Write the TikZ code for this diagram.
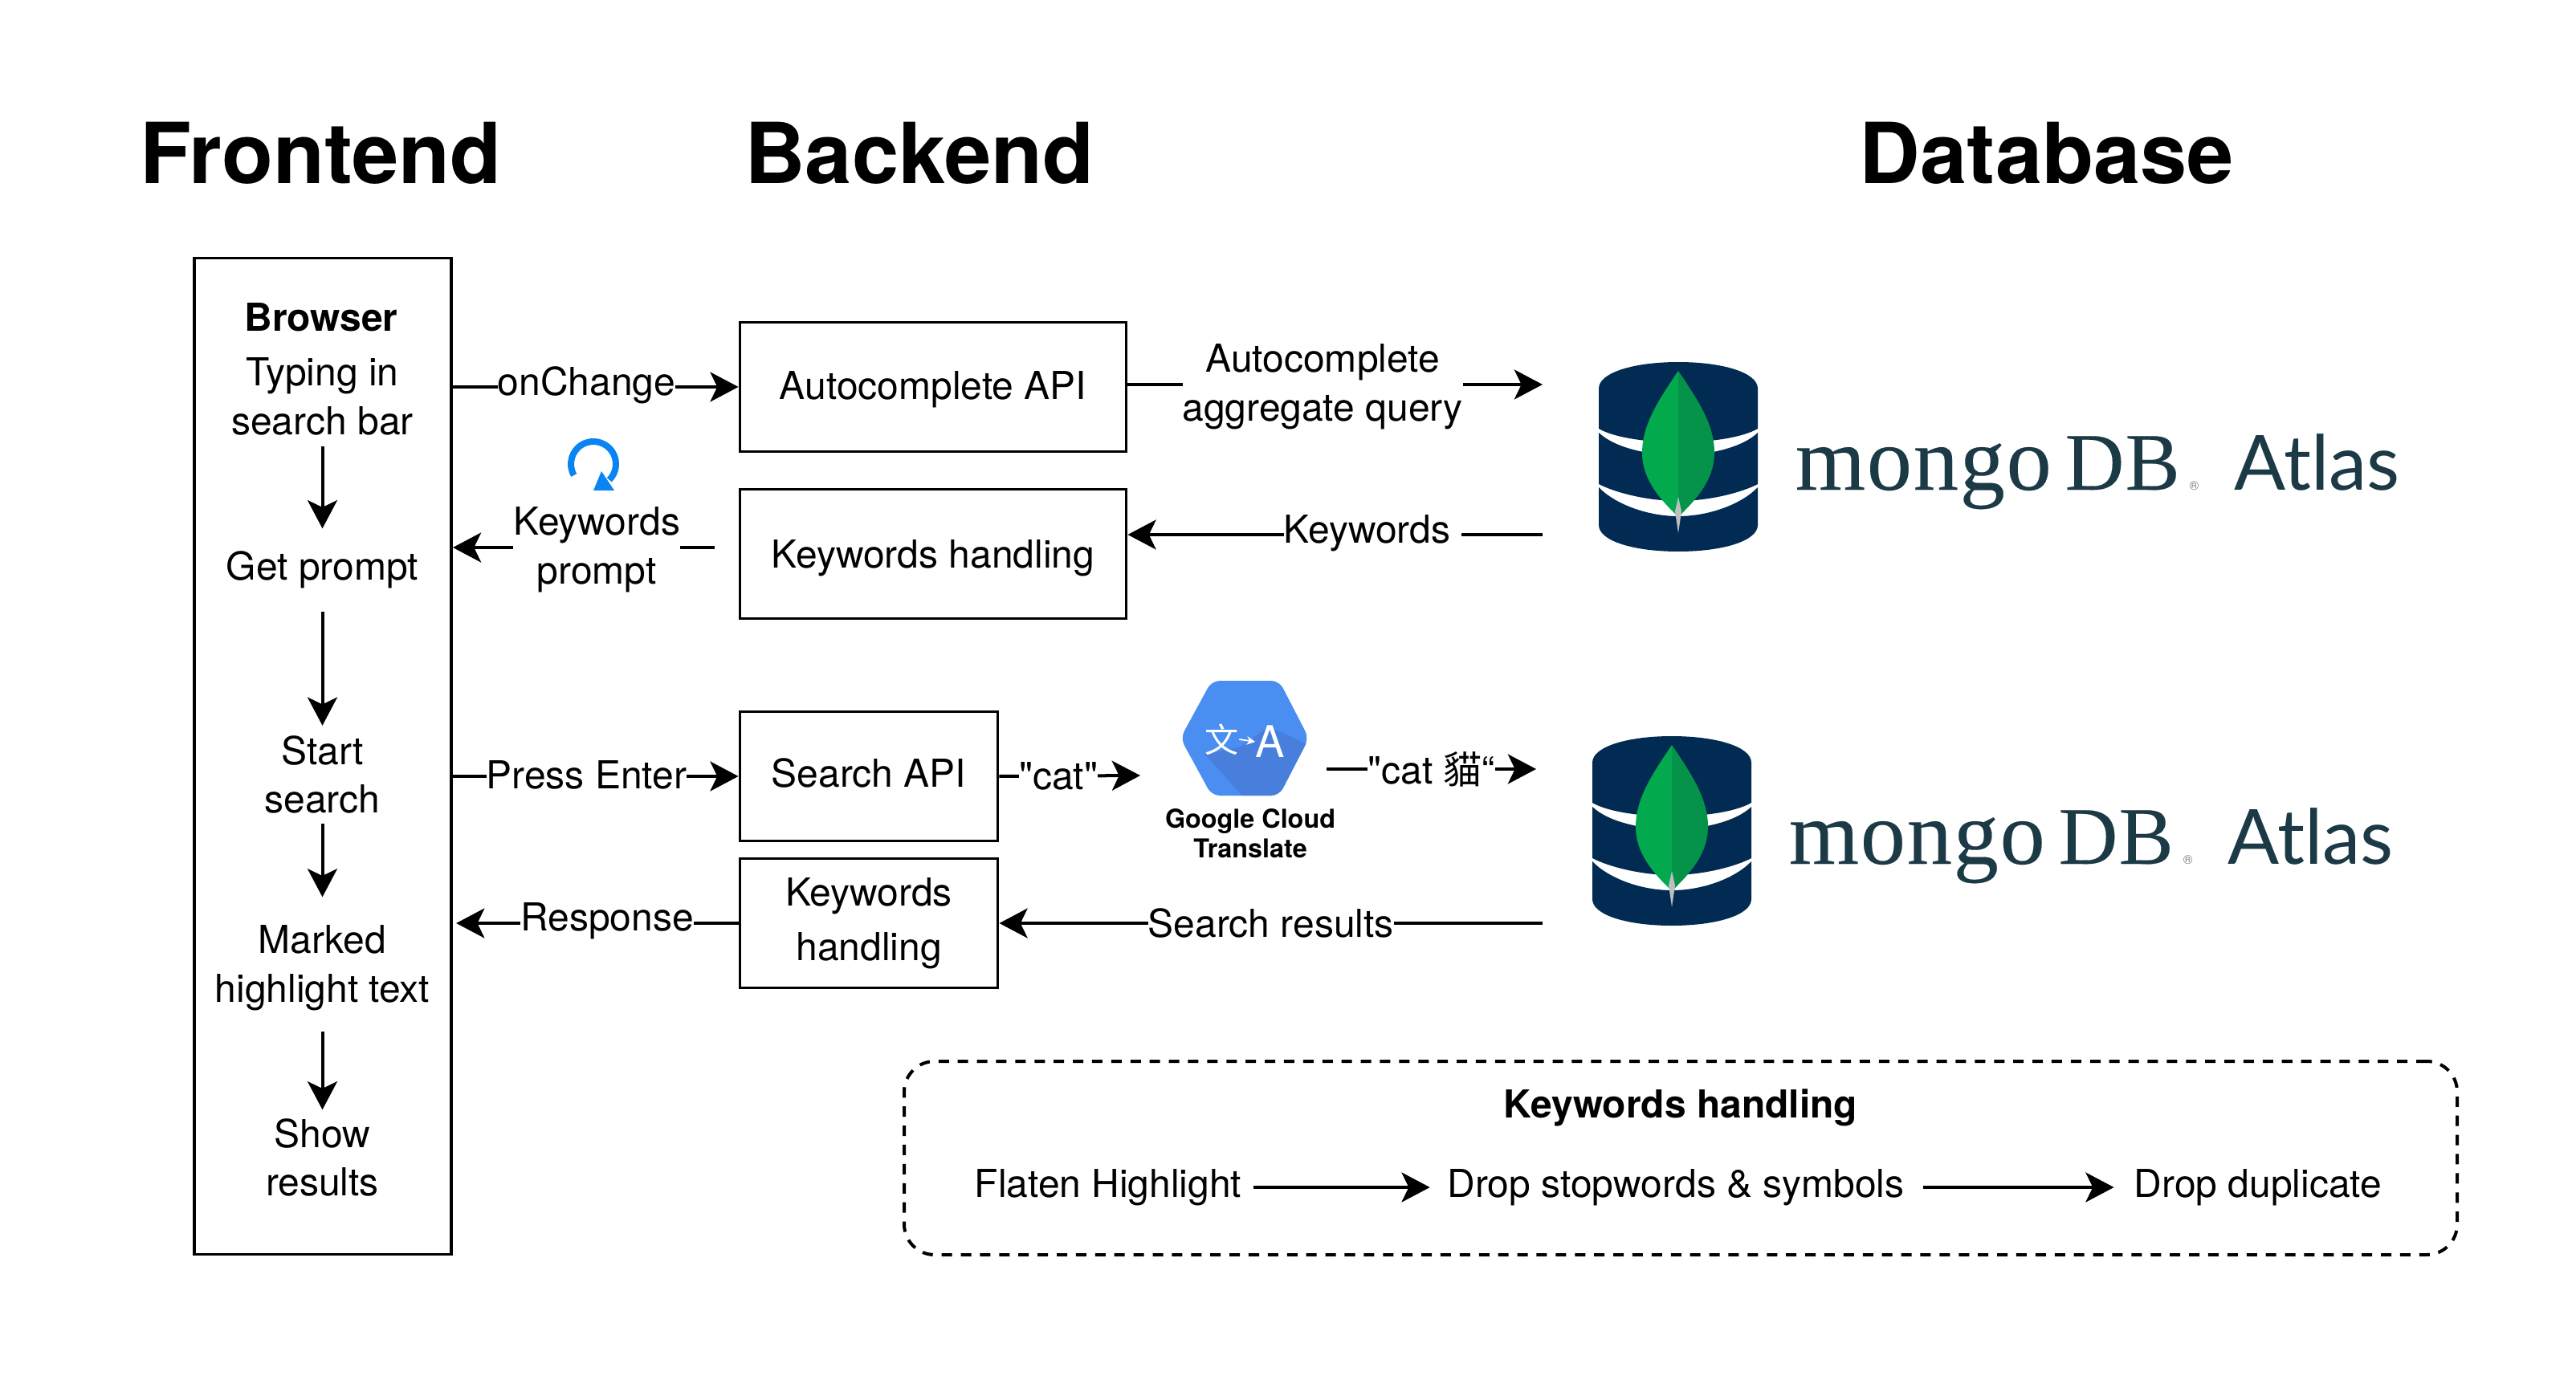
\documentclass[tikz,border=0pt]{standalone}
\usepackage{fontspec}
\setmainfont{TeX Gyre Heros}
\newfontfamily\rawquote{TeX Gyre Heros}
\newfontfamily\logoserif[LetterSpace=1.5,FakeBold=0.15]{Liberation Serif}
\newfontfamily\atlasfont{Lato}
\newfontfamily\cjkfont{Noto Sans CJK TC}
\usetikzlibrary{arrows.meta}
\definecolor{mongonavy}{HTML}{012B52}
\definecolor{leaflight}{HTML}{02A94D}
\definecolor{leafdark}{HTML}{05934A}
\definecolor{logotext}{HTML}{1C3A46}
\definecolor{gcpblue}{HTML}{4A8EF2}
\definecolor{gcpshade}{HTML}{487FDC}
\definecolor{reloadblue}{HTML}{0A84F2}
\tikzset{
  every node/.style={font=\fontsize{13.65}{17.3}\selectfont},
  arr/.style={line width=1.14pt, -{Stealth[length=10pt,width=10.5pt,inset=2.5pt]}},
  apibox/.style={draw, line width=1.1pt, minimum height=1.61cm, inner sep=0pt},
  lbl/.style={fill=white, inner sep=0pt, align=center},
  flowtext/.style={inner sep=0pt, align=center},
  headline/.style={anchor=base, font=\bfseries\fontsize{29.8}{35}\selectfont},
  rowtext/.style={inner sep=0pt},
  mongoatlas/.pic={
    % cylinder
    \fill[mongonavy] (-.99,.85) .. controls (-.99,1.05) and (-.55,1.18) .. (0,1.18) .. controls (.55,1.18) and (.99,1.05) .. (.99,.85)
      -- (.99,.35) .. controls (.8,.24) and (.4,.18) .. (0,.18) .. controls (-.4,.18) and (-.8,.24) .. (-.99,.35) -- cycle;
    \fill[mongonavy] (-.99,.3) .. controls (-.8,.12) and (-.4,.02) .. (0,.02) .. controls (.4,.02) and (.8,.12) .. (.99,.3)
      -- (.99,-.34) .. controls (.8,-.44) and (.4,-.55) .. (0,-.55) .. controls (-.4,-.55) and (-.8,-.44) .. (-.99,-.34) -- cycle;
    \fill[mongonavy] (-.99,-.38) .. controls (-.8,-.58) and (-.4,-.74) .. (0,-.74) .. controls (.4,-.74) and (.8,-.58) .. (.99,-.38)
      -- (.99,-.85) .. controls (.99,-1.05) and (.55,-1.18) .. (0,-1.18) .. controls (-.55,-1.18) and (-.99,-1.05) .. (-.99,-.85) -- cycle;
    % leaf
    \fill[leaflight] (0,1.07) .. controls (-.25,.7) and (-.45,.4) .. (-.45,.05) .. controls (-.45,-.3) and (-.2,-.55) .. (-.03,-.72) -- (0,-.72) -- cycle;
    \fill[leafdark] (0,1.07) .. controls (.25,.7) and (.45,.4) .. (.45,.05) .. controls (.45,-.3) and (.2,-.55) .. (.03,-.72) -- (0,-.72) -- cycle;
    \fill[gray!50] (0,-.95) -- (-.04,-.68) -- (0,-.5) -- (.04,-.68) -- cycle;
    % words
    \node[anchor=base west, inner sep=0pt, text=logotext, font=\logoserif\fontsize{32}{32}\selectfont] at (1.45,-.41) {mongo};
    \node[anchor=base west, inner sep=0pt, text=logotext, font=\logoserif\fontsize{29}{32}\selectfont] at (4.81,-.41) {DB};
    \node[anchor=base west, inner sep=0pt, text=gray, font=\fontsize{4.5}{5}\selectfont] at (6.36,-.41) {®};
    \node[anchor=base west, inner sep=0pt, text=logotext, font=\atlasfont\fontsize{27}{32}\selectfont] at (6.92,-.41) {Atlas};
  }
}
\begin{document}
\begin{tikzpicture}
  \useasboundingbox (0,0) rectangle (32.08,-17.24);
  % Column titles
  \node[headline] (frontend) at (3.995,-2.29) {Frontend};
  \node[headline] (backend) at (11.45,-2.29) {Backend};
  \node[headline] (database) at (25.49,-2.29) {Database};
  % Frontend column
  \node[draw, line width=1.1pt, minimum width=3.2cm, minimum height=12.41cm, inner sep=0pt] (browser) at (4.02,-9.42) {};
  \node[flowtext, font=\bfseries\fontsize{13.65}{17}\selectfont] (browsertitle) at (4.0,-3.95) {Browser};
  \node[flowtext, minimum height=1.22cm] (typing) at (4.015,-4.94) {Typing in\\search bar};
  \node[flowtext, minimum height=1.02cm] (getprompt) at (4.015,-7.1) {Get prompt};
  \node[flowtext, minimum height=1.21cm] (startsearch) at (4.015,-9.65) {Start\\search};
  \node[flowtext, minimum height=1.66cm] (marked) at (4.015,-12.06) {Marked\\highlight text};
  \node[flowtext, minimum height=1.18cm] (showres) at (4.015,-14.42) {Show\\results};
  \draw[arr] (typing) -- (getprompt);
  \draw[arr] (getprompt) -- (startsearch);
  \draw[arr, shorten >=1.4pt] (startsearch) -- (marked);
  \draw[arr, shorten <=-1.4pt] (marked) -- (showres);
  % Backend boxes
  \node[apibox, minimum width=4.81cm, text height=.41cm] (autoapi) at (11.62,-4.82) {Autocomplete API};
  \node[apibox, minimum width=4.81cm, text height=.46cm] (kwtop) at (11.62,-6.9) {Keywords handling};
  \node[apibox, minimum width=3.21cm, text depth=.09cm] (searchapi) at (10.82,-9.67) {Search API};
  \node[apibox, minimum width=3.21cm, align=center, font=\fontsize{13.65}{19.5}\selectfont] (kwsearch) at (10.82,-11.5) {Keywords\\handling};
  % Free ends on the database side
  \coordinate (dbquery) at (19.21,-4.79);
  \coordinate (dbwords) at (19.21,-6.66);
  \coordinate (dbresults) at (19.21,-11.5);
  \coordinate (promptend) at (8.9,-6.82);
  \coordinate (catend) at (14.2,-9.66);
  \coordinate (cattwostart) at (16.52,-9.58);
  \coordinate (cattwoend) at (19.13,-9.58);
  % Connectors
  \draw[arr] (browser.east |- autoapi) -- node[lbl, pos=.468, yshift=.02cm] {onChange} (autoapi.west);
  \draw[arr] (autoapi.east |- dbquery) -- node[lbl, pos=.47, yshift=-.03cm] {Autocomplete\\aggregate query} (dbquery);
  \draw[arr] (dbwords) -- node[lbl, pos=.41, yshift=.02cm] {Keywords\ } (kwtop.east |- dbwords);
  \draw[arr] (promptend) -- node[lbl, pos=.45, yshift=-.03cm] {Keywords\\prompt} (browser.east |- promptend);
  \draw[arr] (browser.east |- searchapi) -- node[lbl, pos=.468, yshift=.02cm] {Press Enter} (searchapi.west);
  \draw[arr] (searchapi.east) -- node[lbl, pos=.42] {\rawquote "cat"} (catend);
  \draw[arr] (cattwostart) -- node[lbl, pos=.5] {\rawquote "cat {\cjkfont 貓}“} (cattwoend);
  \draw[arr, shorten >=1.2pt] (kwsearch.west) -- node[lbl, pos=.46, yshift=.03cm] {Response} (browser.east |- kwsearch);
  \draw[arr] (dbresults) -- node[lbl, pos=.5] {Search results} (kwsearch.east);
  % Reload mark
  \draw[reloadblue, line width=2.27pt] (7.39,-5.78) ++(210:.28) arc[start angle=210, end angle=-45, radius=.28];
  \fill[reloadblue] (7.49,-5.87) -- (7.39,-6.11) -- (7.65,-6.11) -- cycle;
  % Translate icon
  \fill[gcpblue, rounded corners=.1cm] (14.7,-9.195) -- (15.09,-8.48) -- (15.93,-8.48) -- (16.3,-9.195) -- (15.93,-9.91) -- (15.09,-9.91) -- cycle;
  \begin{scope}
    \clip[rounded corners=.1cm] (14.7,-9.195) -- (15.09,-8.48) -- (15.93,-8.48) -- (16.3,-9.195) -- (15.93,-9.91) -- (15.09,-9.91) -- cycle;
    \fill[gcpshade] (15.01,-9.4) -- (15.5,-9.95) -- (16.35,-9.95) -- (16.35,-9.3) -- (15.8,-9.05) -- (15.45,-9.3) -- cycle;
  \end{scope}
  \node[inner sep=0pt, text=white, font=\cjkfont\fontsize{12}{12}\selectfont] (gwen) at (15.215,-9.21) {文};
  \node[inner sep=0pt, text=white, font=\fontsize{15.5}{16}\selectfont] (gaa) at (15.82,-9.24) {A};
  \draw[white, line width=.5pt, -{Stealth[length=3pt,width=3pt]}] (gwen.east) -- (gaa.west);
  \node[inner sep=0pt, align=center, font=\bfseries\fontsize{9.2}{10.6}\selectfont] (gcloud) at (15.57,-10.38) {Google Cloud\\Translate};
  % Logos
  \pic (logotop) at (20.9,-5.69) {mongoatlas};
  \pic (logobottom) at (20.82,-10.35) {mongoatlas};
  % Keywords handling legend
  \node[draw, dash pattern=on 3.7pt off 3.1pt, line width=1.14pt, rounded corners=.38cm, minimum width=19.34cm, minimum height=2.41cm, inner sep=0pt] (legend) at (20.93,-14.425) {};
  \node[inner sep=0pt, font=\bfseries\fontsize{13.65}{17}\selectfont] (legendtitle) at (20.93,-13.8) {Keywords handling};
  \node[rowtext] (flaten) at (13.8,-14.79) {Flaten Highlight};
  \node[rowtext] (stopwords) at (20.87,-14.79) {Drop stopwords \& symbols};
  \node[rowtext] (duplicate) at (28.12,-14.79) {Drop duplicate};
  \draw[arr, shorten <=4pt, shorten >=6pt] (flaten) -- (stopwords);
  \draw[arr, shorten <=6.5pt, shorten >=7pt] (stopwords) -- (duplicate);
\end{tikzpicture}
\end{document}
